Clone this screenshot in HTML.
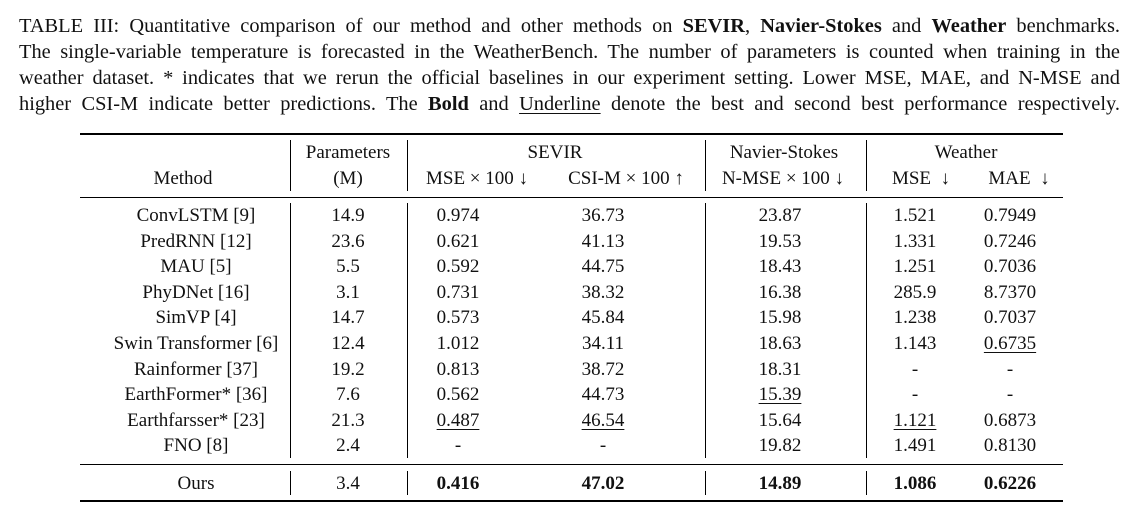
<!DOCTYPE html>
<html><head><meta charset="utf-8"><style>
body{margin:0;background:#fff;width:1138px;height:515px;overflow:hidden;font-family:"Liberation Serif",serif;color:#111;position:relative}
.cap{position:absolute;left:19px;width:1101px;font-size:20.4px;line-height:26px;top:13px}
.cap div{text-align:justify;text-align-last:justify;height:26px;white-space:nowrap}
.t{position:absolute;font-size:19px;white-space:nowrap;transform:translate(-50%,-50%)}
.h{position:absolute;background:#000;left:80px;width:983px}
.v{position:absolute;background:#000;width:1px}
b{font-weight:bold}
u{text-decoration:underline;text-underline-offset:3px;text-decoration-thickness:1px}
</style></head><body>
<div class="cap">
<div style="white-space:normal">TABLE III: Quantitative comparison of our method and other methods on <b>SEVIR</b>, <b>Navier-Stokes</b> and <b>Weather</b> benchmarks.</div>
<div style="white-space:normal">The single-variable temperature is forecasted in the WeatherBench. The number of parameters is counted when training in the</div>
<div style="white-space:normal">weather dataset. * indicates that we rerun the official baselines in our experiment setting. Lower MSE, MAE, and N-MSE and</div>
<div style="white-space:normal">higher CSI-M indicate better predictions. The <b>Bold</b> and <u>Underline</u> denote the best and second best performance respectively.</div>
</div>
<div class="h" style="top:133px;height:2px"></div>
<div class="h" style="top:197px;height:1px"></div>
<div class="h" style="top:464px;height:1px"></div>
<div class="h" style="top:500px;height:2px"></div>
<div id="vs"></div>
<div id="cells"></div>
<script>
var vx=[290,407,705,866];var vs='';
vx.forEach(function(x){vs+='<div class="v" style="left:'+x+'px;top:140px;height:51px"></div><div class="v" style="left:'+x+'px;top:203px;height:255px"></div><div class="v" style="left:'+x+'px;top:471px;height:24px"></div>';});
document.getElementById('vs').innerHTML=vs;
var cx=[196,348,458,603,780,915,1010];
var rows=[
['ConvLSTM [9]','14.9','0.974','36.73','23.87','1.521','0.7949'],
['PredRNN [12]','23.6','0.621','41.13','19.53','1.331','0.7246'],
['MAU [5]','5.5','0.592','44.75','18.43','1.251','0.7036'],
['PhyDNet [16]','3.1','0.731','38.32','16.38','285.9','8.7370'],
['SimVP [4]','14.7','0.573','45.84','15.98','1.238','0.7037'],
['Swin Transformer [6]','12.4','1.012','34.11','18.63','1.143','<u>0.6735</u>'],
['Rainformer [37]','19.2','0.813','38.72','18.31','-','-'],
['EarthFormer* [36]','7.6','0.562','44.73','<u>15.39</u>','-','-'],
['Earthfarsser* [23]','21.3','<u>0.487</u>','<u>46.54</u>','15.64','<u>1.121</u>','0.6873'],
['FNO [8]','2.4','-','-','19.82','1.491','0.8130']];
var h='';
function c(x,y,s){h+='<div class="t" style="left:'+x+'px;top:'+y+'px">'+s+'</div>';}
c(555,153,'SEVIR');c(784,153,'Navier-Stokes');c(966,153,'Weather');c(348,153,'Parameters');
c(183,179,'Method');c(348,179,'(M)');c(477,179,'MSE × 100 ↓');c(626,179,'CSI-M × 100 ↑');c(783,179,'N-MSE × 100 ↓');c(921,179,'MSE &nbsp;↓');c(1019,179,'MAE &nbsp;↓');
rows.forEach(function(r,i){var y=216+i*25.6;r.forEach(function(s,j){c(cx[j],y,s);});});
['Ours','3.4','<b>0.416</b>','<b>47.02</b>','<b>14.89</b>','<b>1.086</b>','<b>0.6226</b>'].forEach(function(s,j){c(cx[j],484,s);});
document.getElementById('cells').innerHTML=h;
</script>
</body></html>
